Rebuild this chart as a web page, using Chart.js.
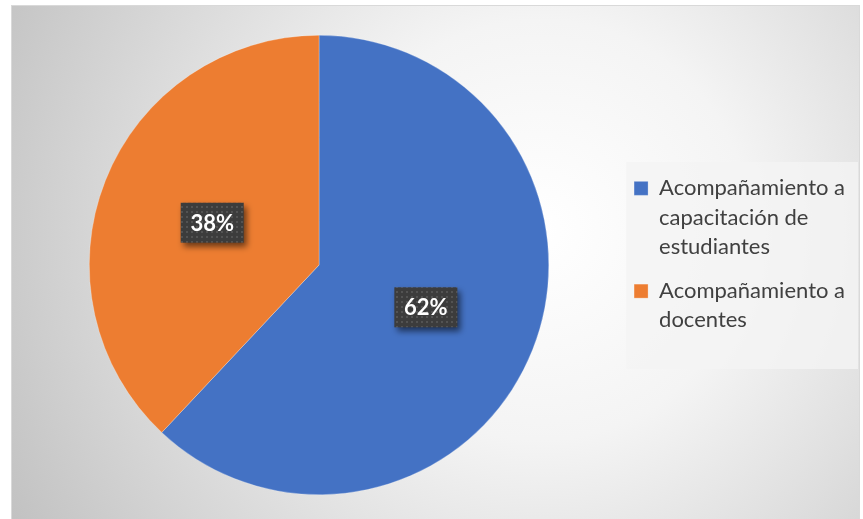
<!DOCTYPE html>
<html>
<head>
<meta charset="utf-8">
<script src="https://cdn.jsdelivr.net/npm/chart.js@4"></script>
<style>
  html, body { margin: 0; background: #fff; }
  #wrap { width: 863px; height: 519px; position: relative; }
</style>
</head>
<body>
<div id="wrap"><canvas id="pie-chart"></canvas></div>
<script>
const categories = [
    ["Acompañamiento a", "capacitación de", "estudiantes"],
    ["Acompañamiento a", "docentes"]
];
const values = [62, 38];
const colors = ["#4472C4", "#ED7D31"];

const FONT = "Lato, 'Open Sans', sans-serif";

// dotted fill for the value boxes
const dots = document.createElement('canvas');
dots.width = 5; dots.height = 5;
const dctx = dots.getContext('2d');
dctx.fillStyle = '#3c3c3c';
dctx.fillRect(0, 0, 5, 5);
dctx.fillStyle = '#535353';
dctx.fillRect(1, 1, 2, 2);

const backdrop = {
    id: 'backdrop',
    afterLayout(chart) {
        // legend block sits a little above the pie centre
        chart.legend.top -= 7;
        chart.legend.bottom -= 7;
    },
    beforeDraw(chart) {
        const ctx = chart.ctx;
        const w = chart.width, h = chart.height;
        ctx.save();
        ctx.fillStyle = '#fff';
        ctx.fillRect(0, 0, w, h);
        const g = ctx.createRadialGradient(540, 230, 0, 540, 230, 600);
        g.addColorStop(0, '#ffffff');
        g.addColorStop(0.35, '#f4f4f4');
        g.addColorStop(1, '#c2c2c2');
        ctx.fillStyle = g;
        ctx.fillRect(11, 5, w - 14, h - 3);
        ctx.strokeStyle = '#d9d9d9';
        ctx.lineWidth = 1;
        ctx.strokeRect(11.5, 5.5, w - 15, h - 4);
        // legend panel
        const lg = chart.legend;
        const px = lg.left + 7;
        ctx.fillStyle = 'rgba(244,244,244,0.8)';
        ctx.fillRect(px, 162, w - 5 - px, 207);
        ctx.restore();
    }
};

const valueBoxes = {
    id: 'valueBoxes',
    afterDatasetsDraw(chart) {
        const ctx = chart.ctx;
        const total = values.reduce((a, b) => a + b, 0);
        const pattern = ctx.createPattern(dots, 'repeat');
        chart.getDatasetMeta(0).data.forEach((arc, i) => {
            const p = arc.tooltipPosition();
            const text = Math.round(values[i] / total * 100) + '%';
            const bw = 63, bh = 40;
            ctx.save();
            ctx.shadowColor = 'rgba(0,0,0,0.55)';
            ctx.shadowBlur = 6;
            ctx.shadowOffsetX = 3;
            ctx.shadowOffsetY = 4;
            ctx.fillStyle = pattern;
            ctx.fillRect(p.x - bw / 2, p.y - bh / 2, bw, bh);
            ctx.restore();
            ctx.save();
            ctx.font = 'bold 22px ' + FONT;
            ctx.fillStyle = '#fff';
            ctx.textAlign = 'center';
            ctx.textBaseline = 'middle';
            ctx.fillText(text, p.x, p.y + 1);
            ctx.restore();
        });
    }
};

new Chart(document.getElementById("pie-chart"), {
    type: 'pie',
    data: {
        labels: categories,
        datasets: [{
            data: values,
            backgroundColor: colors,
            borderColor: 'rgba(255,255,255,0.5)',
            borderWidth: 0.5
        }]
    },
    options: {
        responsive: true,
        maintainAspectRatio: false,
        animation: false,
        layout: {
            padding: { left: 19, top: 35, bottom: 24, right: 8 }
        },
        plugins: {
            legend: {
                position: 'right',
                labels: {
                    boxWidth: 14,
                    boxHeight: 14,
                    padding: 15,
                    color: '#404040',
                    font: { family: FONT, size: 22, lineHeight: 1.33 }
                }
            },
            tooltip: { enabled: false }
        }
    },
    plugins: [backdrop, valueBoxes]
});
</script>
</body>
</html>
